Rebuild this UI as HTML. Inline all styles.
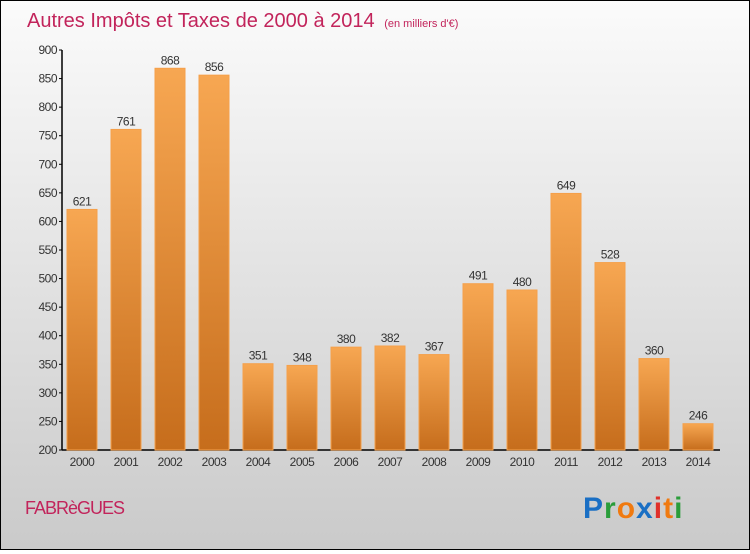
<!DOCTYPE html>
<html><head><meta charset="utf-8"><style>
html,body{margin:0;padding:0;}
body{width:750px;height:550px;overflow:hidden;font-family:"Liberation Sans",sans-serif;}
#wrap{position:absolute;left:0;top:0;width:748px;height:548px;border:1px solid #000;background:linear-gradient(#fbfbfb,#cacaca);}
</style></head><body>
<div id="wrap">
<svg width="748" height="548" viewBox="1 1 748 548" xmlns="http://www.w3.org/2000/svg">
<defs><linearGradient id="bg" x1="0" y1="0" x2="0" y2="1"><stop offset="0" stop-color="#f7a752"/><stop offset="1" stop-color="#c66d1c"/></linearGradient></defs>
<text x="27" y="27" font-size="20" fill="#c2245b">Autres Impôts et Taxes de 2000 à 2014 <tspan font-size="11" dx="4">(en milliers d'€)</tspan></text>
<g id="axes"></g><g id="bars"></g>
<text x="25" y="514" font-size="18" fill="#c2245b" letter-spacing="-1">FABRèGUES</text>
<g font-size="30" font-weight="bold" font-family="'Liberation Sans',sans-serif" letter-spacing="1">
<text x="583" y="518"><tspan fill="#1a6fc4">P</tspan><tspan fill="#2a9d3a">r</tspan><tspan fill="#f07a10">o</tspan><tspan fill="#1a6fc4">x</tspan><tspan fill="#e0302a">i</tspan><tspan fill="#f07a10">t</tspan><tspan fill="#2a9d3a">i</tspan></text></g>
</svg></div>
<script>
const years=["2000","2001","2002","2003","2004","2005","2006","2007","2008","2009","2010","2011","2012","2013","2014"];
const values=[621,761,868,856,351,348,380,382,367,491,480,649,528,360,246];
const yTicks=[200,250,300,350,400,450,500,550,600,650,700,750,800,850,900];
const NS="http://www.w3.org/2000/svg";
const y=v=>450-(v-200)*400/700;
const x=i=>82+i*44;
function mk(t,a,p){const e=document.createElementNS(NS,t);for(const k in a)e.setAttribute(k,a[k]);p.appendChild(e);return e;}
const ax=document.getElementById('axes'),bs=document.getElementById('bars');
const yl=mk('line',{x1:62,y1:50,x2:62,y2:450,stroke:'#000','stroke-width':1.5},ax);


const xl=mk('line',{x1:62,y1:450,x2:720,y2:450,stroke:'#000','stroke-width':1.5},ax);


yTicks.forEach(v=>{
 mk('line',{x1:59,x2:62,y1:y(v),y2:y(v),stroke:'#000'},ax);
 const t=mk('text',{x:57,y:y(v)+4,'font-size':12,'text-anchor':'end',fill:'#333','letter-spacing':'-0.5'},ax);
 t.textContent=v;
 
 
});
years.forEach((yr,i)=>{
 const v=values[i];
 const r=mk('rect',{x:x(i)-15,y:y(v),width:30,height:450-y(v),fill:'url(#bg)',stroke:'#f5a04a','stroke-width':1},bs);
 
 
 const l=mk('text',{x:x(i),y:y(v)-4,'font-size':12,'text-anchor':'middle',fill:'#333','letter-spacing':'-0.5'},bs);
 l.textContent=v;
 
 
 const xt=mk('text',{x:x(i),y:466,'font-size':12,'text-anchor':'middle',fill:'#333','letter-spacing':'-0.5'},bs);
 xt.textContent=yr;
 
 
});
</script>
</body></html>
